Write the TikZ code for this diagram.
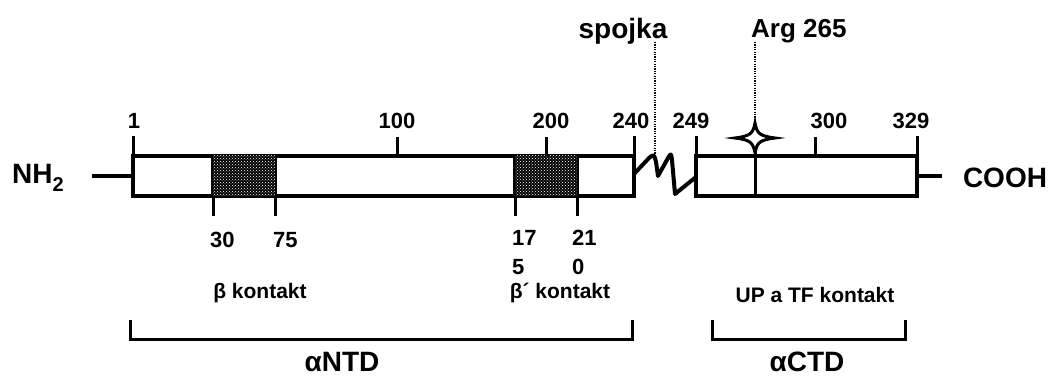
\documentclass[tikz,border=0pt]{standalone}
\usepackage{fontspec}
\setmainfont{Liberation Sans}
\usetikzlibrary{patterns,calc}
\begin{document}
\begin{tikzpicture}[x=1pt,y=-1pt,
  box/.style={draw, line width=3.5pt, minimum height=40pt, inner sep=0pt, outer sep=0pt, fill=white},
  shadebox/.style={draw, line width=3.5pt, minimum height=40pt, inner sep=0pt, outer sep=0pt, fill=black,
     postaction={pattern=crosshatch dots, pattern color=white}},
  tk/.style={line width=3pt},
  num/.style={font=\fontsize{22}{24}\selectfont\bfseries, inner sep=0pt},
  lab/.style={font=\fontsize{21}{24}\selectfont\bfseries, inner sep=0pt},
  big/.style={font=\fontsize{28}{30}\selectfont\bfseries, inner sep=0pt},
  dotline/.style={line width=2.2pt, dash pattern=on 1.2pt off 1.2pt},
  brk/.style={line width=3pt}
]
\useasboundingbox (0,0) rectangle (1057,379);

% main boxes
\node[box, minimum width=501pt] (b1) at (383.5,176) {};
\node[box, minimum width=221pt] (b2) at (806.5,176) {};
\node[shadebox, minimum width=62pt] (s1) at (244,176) {};
\node[shadebox, minimum width=62pt] (s2) at (546,176) {};

% termini
\node[big, anchor=center] (nh) at (38,178) {NH\raisebox{-8pt}{\fontsize{20}{20}\selectfont 2}};
\node[big, anchor=center] (cooh) at (1005,178) {COOH};
\coordinate (nhend) at (92,176);
\coordinate (coohend) at (942,176);
\draw[line width=3.5pt] (nhend) -- (b1.west);
\draw[line width=3.5pt] (b2.east) -- (coohend);

% upper ticks
\draw[tk] (b1.north west) -- ++(0,-20);
\draw[tk] (b1.north west) ++(264,0) -- ++(0,-19);
\draw[tk] (s2.north) -- ++(0,-19);
\draw[tk] (b1.north east) -- ++(0,-20);
\draw[tk] (b2.north west) -- ++(0,-20);
\draw[tk] (b2.north west) ++(119,0) -- ++(0,-19);
\draw[tk] (b2.north east) -- ++(0,-20);

\node[num] (n1) at (134,121) {1};
\node[num] (n100) at (397,121) {100};
\node[num] (n200) at (551,121) {200};
\node[num] (n240) at (631,121) {240};
\node[num] (n249) at (691,121) {249};
\node[num] (n300) at (829,121) {300};
\node[num] (n329) at (911,121) {329};

% lower ticks
\draw[tk] (s1.south west) -- ++(0,20);
\draw[tk] (s1.south east) -- ++(0,20);
\draw[tk] (s2.south west) -- ++(0,20);
\draw[tk] (s2.south east) -- ++(0,20);

\node[num, anchor=west] (n30) at (210,240) {30};
\node[num, anchor=west] (n75) at (273,240) {75};
\node[num, anchor=west] (n17) at (512,238) {17};
\node[num, anchor=west] (n21) at (572,238) {21};
\node[num, anchor=west] (n5) at (512,267) {5};
\node[num, anchor=west] (n0) at (572,267) {0};

% linker zigzag
\coordinate (zs) at (634,174);
\coordinate (ze) at (696,177);
\draw[line width=4pt, line join=round, line cap=round]
  (zs) -- (649,158) .. controls (654,154) .. (656,162) -- (658,176)
  -- (668,158) .. controls (671,153) .. (672,160) -- (675,194)
  -- (ze);

% spojka
\node[big] (spojka) at (623,31) {spojka};
\coordinate (sptop) at (655,42);
\coordinate (spbot) at (655,156);
\draw[dotline] (sptop) -- (spbot);

% Arg 265
\node[big, font=\fontsize{26}{28}\selectfont\bfseries, anchor=west] (arg) at (751,31) {Arg 265};
\coordinate (star) at (755,138);
\coordinate (argtop) at (755,42);
\draw[dotline] (argtop) -- ($(star)+(0,-15)$);
\draw[tk] (star) ++(0,14) -- (b2.south west -| star);
\draw[line width=3pt, fill=white, shift={(star)}]
  (20,0) .. controls (5,2) and (2,4) .. (0,15)
  .. controls (-2,4) and (-5,2) .. (-20,0)
  .. controls (-5,-2) and (-2,-4) .. (0,-15)
  .. controls (2,-4) and (5,-2) .. (20,0) -- cycle;

% contact labels
\node[lab] (bk) at (260,293) {β kontakt};
\node[lab] (bpk) at (560,293) {β´ kontakt};
\node[lab] (uptf) at (815,295) {UP a TF kontakt};

% brackets
\draw[brk] (130,320) -- (130,339) -- (632,339) -- (632,320);
\draw[brk] (712,320) -- (712,339) -- (905,339) -- (905,320);
\node[big] (ntd) at (342,362) {αNTD};
\node[big] (ctd) at (807,362) {αCTD};
\end{tikzpicture}
\end{document}
